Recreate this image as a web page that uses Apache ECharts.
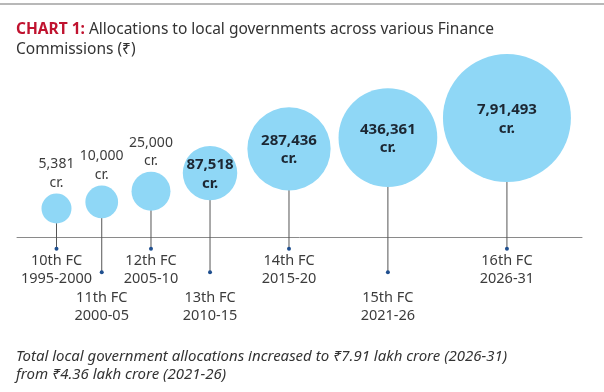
<!DOCTYPE html>
<html><head><meta charset="utf-8">
<script src="https://cdn.jsdelivr.net/npm/echarts@6/dist/echarts.min.js"></script>
<style>html,body{margin:0;padding:0;background:#fff}#c{width:604px;height:392px}</style>
</head><body><div id="c"></div>
<script>
// ---- data ----
const commissions = ['10th FC','11th FC','12th FC','13th FC','14th FC','15th FC','16th FC'];
const periods = ['1995-2000','2000-05','2005-10','2010-15','2015-20','2021-26','2026-31'];
const allocations = [5381, 10000, 25000, 87518, 287436, 436361, 791493];
const allocationLabels = ['5,381','10,000','25,000','87,518','287,436','436,361','7,91,493'];

// ---- layout derived from values (axis units = pixels) ----
function bubbleRadius(v){ return 11.64 + 0.02984 * Math.pow(v, 0.55); }
const radii = allocations.map(bubbleRadius);
const xs = [];
radii.forEach((r, i) => { xs.push(i === 0 ? 0 : xs[i-1] + 0.9 * (radii[i-1] + r) + 17); });
const heights = allocations.map((v, i) => radii[i] + 14 + 8.3 * Math.log(v / allocations[0]));

const FONT = '"Noto Sans", sans-serif';
const chart = echarts.init(document.getElementById('c'), null, {renderer: 'canvas'});
chart.setOption({
  animation: false,
  backgroundColor: '#fff',
  graphic: [{type: 'rect', left: 0, top: 3, shape: {width: 604, height: 2}, style: {fill: '#b8b8b8'}}],
  title: [{
    left: 16, top: 20, padding: 0,
    text: '{r|CHART 1:} Allocations to local governments across various Finance\nCommissions (₹)',
    textStyle: {fontFamily: FONT, fontSize: 15.5, fontWeight: 'normal', color: '#333', lineHeight: 20,
      rich: {r: {fontFamily: FONT, fontSize: 15.5, fontWeight: 'bold', color: '#c0132f', lineHeight: 20}}}
  }, {
    left: 16, top: 348, padding: 0,
    text: 'Total local government allocations increased to ₹7.91 lakh crore (2026-31)\nfrom ₹4.36 lakh crore (2021-26)',
    textStyle: {fontFamily: FONT, fontSize: 15, fontStyle: 'italic', fontWeight: 'normal', color: '#333', lineHeight: 17.6}
  }],
  grid: {left: 17, right: 22, top: 0, bottom: 0},
  xAxis: {type: 'value', min: -39.5, max: 525.5,
    axisLine: {show: true, onZero: true, lineStyle: {color: '#8a8a8a', width: 1}},
    axisTick: {show: false}, axisLabel: {show: false}, splitLine: {show: false}},
  yAxis: {type: 'value', min: -154.5, max: 237.5, show: false, splitLine: {show: false}},
  series: [{
    type: 'custom',
    clip: false,
    data: allocations.map((v, i) => [xs[i], heights[i], radii[i], i]),
    renderItem: function (params, api) {
      const i = api.value(3);
      const c = api.coord([api.value(0), api.value(1)]);
      const b = api.coord([api.value(0), 0]);
      const r = api.size([api.value(2), api.value(2)])[1];
      const odd = i % 2 === 1;
      const dotY = b[1] + (odd ? 34.8 : 11.2);
      const children = [
        {type: 'line', shape: {x1: c[0], y1: c[1], x2: c[0], y2: dotY}, style: {stroke: '#555', lineWidth: 1}},
        {type: 'circle', shape: {cx: c[0], cy: c[1], r: r}, style: {fill: '#8fd7f6'}},
        {type: 'circle', shape: {cx: c[0], cy: dotY, r: 2}, style: {fill: '#1f4f8f'}},
        {type: 'text', style: {text: commissions[i] + '\n' + periods[i], x: c[0], y: b[1] + (odd ? 69.5 : 32.5),
          align: 'center', verticalAlign: 'middle', lineHeight: 17.6, font: '14.5px ' + FONT, fill: '#3c3c3c'}}
      ];
      if (r > 25) {
        children.push({type: 'text', style: {text: allocationLabels[i] + '\ncr.', x: c[0], y: c[1] + 1,
          align: 'center', verticalAlign: 'middle', lineHeight: 18.4, font: 'bold 15px ' + FONT, fill: '#1c2733'}});
      } else {
        children.push({type: 'text', style: {text: allocationLabels[i] + '\ncr.', x: c[0], y: c[1] - r - 20,
          align: 'center', verticalAlign: 'middle', lineHeight: 18.4, font: '14px ' + FONT, fill: '#3c3c3c'}});
      }
      return {type: 'group', children: children};
    }
  }]
});
</script>
</body></html>
